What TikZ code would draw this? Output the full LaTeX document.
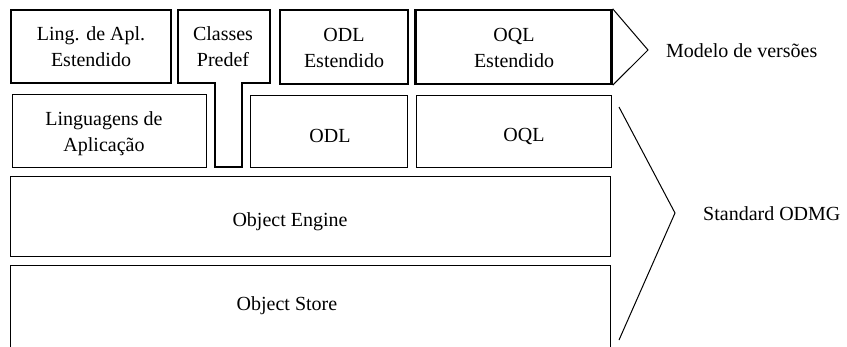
\documentclass[tikz,border=0pt]{standalone}
\usepackage{fontspec}
\setmainfont{Liberation Serif}
\begin{document}
\begin{tikzpicture}[x=1pt,y=-1pt,
  thickbox/.style={draw, line width=2.4pt, inner sep=0pt},
  thinbox/.style={draw, line width=1pt, inner sep=0pt},
  txt/.style={align=center, font=\fontsize{20}{26}\selectfont, inner sep=0pt},
  bracel/.style={line width=1pt}]
\useasboundingbox (0,0) rectangle (847,346);
% top row
\node[thickbox, minimum width=160pt, minimum height=73pt] (lae) at (91,46.5) {};
\node[txt] (laet) at (91,47) {Ling. de Apl.\\Estendido};
\draw[line width=2.4pt, line join=miter] (178,10) -- (270,10) -- (270,83) -- (242,83) -- (242,167) -- (215,167) -- (215,83) -- (178,83) -- cycle;
\node[txt] (cp) at (223,47) {Classes\\Predef};
\node[thickbox, minimum width=128pt, minimum height=74pt] (odle) at (344,47) {};
\node[txt] (odlet) at (344,48) {ODL\\Estendido};
\node[thickbox, minimum width=196pt, minimum height=74pt] (oqle) at (513.5,47) {};
\node[txt] (oqlet) at (514,48) {OQL\\Estendido};
% second row
\node[thinbox, minimum width=194pt, minimum height=73pt] (la) at (109,130.5) {};
\node[txt] (lat) at (104,134) {Linguagens de\\Aplicação};
\node[thinbox, minimum width=157pt, minimum height=72pt] (odl) at (328.5,131) {};
\node[txt] (odlt) at (330,136) {ODL};
\node[thinbox, minimum width=195pt, minimum height=72pt] (oql) at (513.5,131) {};
\node[txt] (oqlt) at (524,136) {OQL};
% third and fourth rows
\node[thinbox, minimum width=600pt, minimum height=80pt] (eng) at (310,216.5) {};
\node[txt] (engt) at (290,222) {Object Engine};
\coordinate (stbl) at (10,350);
\coordinate (stbr) at (610,350);
\draw[line width=1pt] (stbl) -- (10,265) -- (610,265) -- (stbr);
\node[txt] (stt) at (287,306) {Object Store};
% braces
\coordinate (mapex) at (648,50);
\draw[bracel] (oqle.north east) -- (mapex) -- (oqle.south east);
\node[txt, anchor=west] (mv) at (666,51) {Modelo de versões};
\coordinate (s1) at (619,107);
\coordinate (sapex) at (675,213);
\coordinate (s2) at (619,340);
\draw[bracel] (s1) -- (sapex) -- (s2);
\node[txt, anchor=west] (sodmg) at (703,214) {Standard ODMG};
\end{tikzpicture}
\end{document}
